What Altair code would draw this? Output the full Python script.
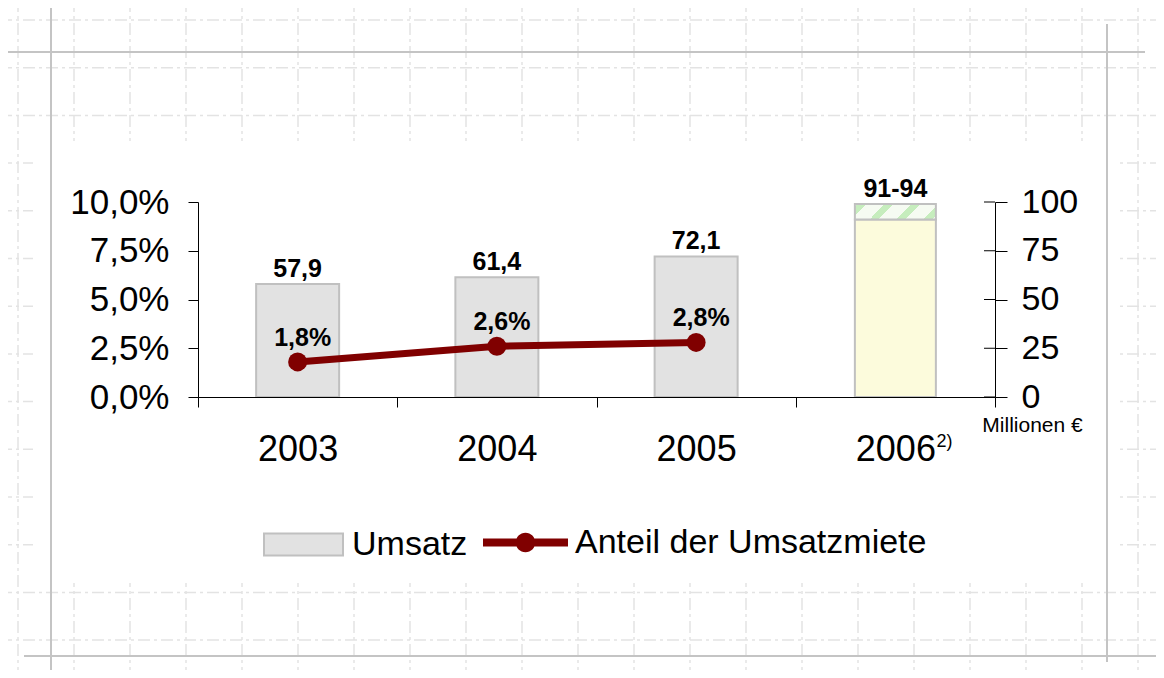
import altair as alt
import pandas as pd

# ---------------- data ----------------
years = ["2003", "2004", "2005", "2006"]
umsatz = [57.9, 61.4, 72.1]                 # Umsatz, Millionen €
umsatz_2006_low = 91.0                       # forecast range lower end
umsatz_2006_top = 99.0                       # top of the hatched forecast box as drawn
umsatz_2006_label = "91-94"
anteil = [0.018, 0.026, 0.028]               # Anteil der Umsatzmiete
right_ticks = [0, 25, 50, 75, 100]
left_ticks = [0, 0.025, 0.05, 0.075, 0.1]
footnote = "2)"
series_bar = "Umsatz"
series_line = "Anteil der Umsatzmiete"

# ---------------- layout / style ----------------
W, H = 797, 195
OX, OY = 198, 202          # page position of plot origin
FONT = "Liberation Sans"
GREY_EDGE = "#c0c0c0"
DARKRED = "#800000"

x_scale = alt.Scale(type="band", domain=years, paddingInner=0, paddingOuter=0)
yr_scale = alt.Scale(domain=[0, 100], nice=False)
yl_scale = alt.Scale(domain=[0, 0.1], nice=False)

x_axis = alt.Axis(title=None, labelAngle=0, labelFontSize=36, labelFont=FONT,
                  labelColor="black", labelPadding=25, tickBand="extent",
                  tickSize=10, tickColor="black", domainColor="black", grid=False,
                  zindex=2)
right_axis = alt.Axis(orient="right", values=right_ticks, format="d",
                      title="Millionen €", titleAngle=0, titleX=37, titleY=229,
                      titleAlign="center", titleBaseline="alphabetic",
                      titleFontSize=21, titleFontWeight="normal", titleColor="black",
                      titleFont=FONT, labelFontSize=34, labelFont=FONT,
                      labelColor="black", labelPadding=14, tickSize=12,
                      tickColor="black", domainColor="black", grid=False, zindex=2)
left_axis = alt.Axis(orient="left", values=left_ticks,
                     labelExpr="replace(format(datum.value, '.1%'), '.', ',')",
                     title=None, labelFontSize=35, labelFont=FONT, labelColor="black",
                     labelPadding=19, tickSize=10, tickColor="black",
                     domainColor="black", grid=False, zindex=2)

X = alt.X("year:N", scale=x_scale, axis=x_axis)
X_noaxis = alt.X("year:N", scale=x_scale, axis=None)
YR = alt.Y("hi:Q", scale=yr_scale, axis=right_axis)
YL = alt.Y("p:Q", scale=yl_scale, axis=left_axis)

# ---------------- decoration (drafting-paper background) ----------------
dash_rows = []
for k in range(21):
    px = 18 + 56 * k - OX
    dash_rows.append({"x": px, "x2": px, "y": -OY, "y2": 678 - OY})
for k in range(14):
    py = 20 + 47.7 * k - OY
    dash_rows.append({"x": -OX, "x2": 1164 - OX, "y": py, "y2": py})
frame_rows = [
    {"x": 8 - OX, "x2": 1145 - OX, "y": 52 - OY, "y2": 52 - OY},
    {"x": 51 - OX, "x2": 51 - OX, "y": 7 - OY, "y2": 678 - OY},
    {"x": 1107 - OX, "x2": 1107 - OX, "y": 24 - OY, "y2": 662 - OY},
    {"x": 24 - OX, "x2": 1164 - OX, "y": 656 - OY, "y2": 656 - OY},
]
box_rows = [{"x": 33 - OX, "x2": 1118 - OX, "y": 141 - OY, "y2": 583 - OY}]

def raw_enc(ch):
    return ch.encode(
        x=alt.X("x:Q", scale=None, axis=None), x2="x2:Q",
        y=alt.Y("y:Q", scale=None, axis=None), y2="y2:Q")

dashed = raw_enc(alt.Chart(pd.DataFrame(dash_rows)).mark_rule(
    color="#e3e3e3", strokeWidth=1.5, strokeDash=[12, 4, 3, 4]))
whitebox = raw_enc(alt.Chart(pd.DataFrame(box_rows)).mark_rect(fill="white"))
frame = raw_enc(alt.Chart(pd.DataFrame(frame_rows)).mark_rule(
    color="#c4c4c4", strokeWidth=2))
deco = alt.layer(dashed, whitebox, frame)

# ---------------- bars (right axis) ----------------
bars_df = pd.DataFrame({"year": years[:3], "lo": [0.0] * 3, "hi": umsatz,
                        "s": [series_bar] * 3})
base06_df = pd.DataFrame({"year": [years[3]], "lo": [0.0], "hi": [umsatz_2006_low]})
top06_df = pd.DataFrame({"year": [years[3]], "lo": [umsatz_2006_low],
                         "hi": [umsatz_2006_top]})
lab_df = pd.DataFrame({
    "year": years,
    "hi": umsatz + [umsatz_2006_top],
    "label": [f"{v:.1f}".replace(".", ",") for v in umsatz] + [umsatz_2006_label],
})

leg_bar = alt.Legend(title=None, orient="none", legendX=65, legendY=302,
                     symbolType="M-1,-0.278H1V0.278H-1Z", symbolSize=6241,
                     symbolStrokeColor=GREY_EDGE, symbolStrokeWidth=2,
                     labelFont=FONT, labelFontSize=34, labelColor="black",
                     labelOffset=8, labelLimit=1000, padding=0)

bars = alt.Chart(bars_df).mark_bar(size=83, stroke=GREY_EDGE, strokeWidth=2).encode(
    x=X, y=YR, y2="lo:Q",
    fill=alt.Fill("s:N", scale=alt.Scale(domain=[series_bar], range=["#e2e2e2"]),
                  legend=leg_bar))

base06 = alt.Chart(base06_df).mark_bar(size=81, fill="#fcfbdc", stroke=GREY_EDGE,
                                       strokeWidth=2).encode(x=X, y=YR, y2="lo:Q")

g, w = "#c6edbd", "#f6fbf2"
stops = [(0, w), (0.03, w), (0.03, g), (0.12, g), (0.12, w), (0.31, w), (0.31, g),
         (0.40, g), (0.40, w), (0.59, w), (0.59, g), (0.68, g), (0.68, w), (0.87, w),
         (0.87, g), (0.96, g), (0.96, w), (1, w)]
grad = alt.LinearGradient(
    gradient="linear",
    stops=[alt.GradientStop(color=c, offset=o) for o, c in stops],
    x1=0, y1=0, x2=1.147, y2=0.215)
top06 = alt.Chart(top06_df).mark_bar(size=81, fill=grad, stroke=GREY_EDGE,
                                     strokeWidth=2).encode(x=X, y=YR, y2="lo:Q")

bar_labels = alt.Chart(lab_df).mark_text(
    font=FONT, fontSize=25, fontWeight="bold", baseline="alphabetic", dy=-7,
    color="black").encode(x=X, y=YR, text="label:N")

inner_ticks = alt.Chart(pd.DataFrame({"hi": right_ticks})).mark_rule(
    color="black", strokeWidth=1).encode(
    x=alt.value(W - 11), x2=alt.value(W), y=YR)

foot = alt.Chart(pd.DataFrame({"year": [years[3]], "t": [footnote]})).mark_text(
    font=FONT, fontSize=18, align="left", baseline="alphabetic", dx=41,
    color="black").encode(x=X, y=alt.value(245), text="t:N")

bar_group = alt.layer(bars, base06, top06, inner_ticks, bar_labels, foot)

# ---------------- line (left axis) ----------------
pct_df = pd.DataFrame({"year": years[:3], "p": anteil, "s2": [series_line] * 3})
pct_df["label"] = [f"{v * 100:.1f}".replace(".", ",") + "%" for v in anteil]

leg_line = alt.Legend(
    title=None, orient="none", legendX=285, legendY=298,
    symbolType="M-1,-0.094H1V0.094H-1Z M0.23,0A0.23,0.23,0,1,1,-0.23,0A0.23,0.23,0,1,1,0.23,0Z",
    symbolSize=7225, symbolStrokeWidth=0, labelFont=FONT, labelFontSize=34,
    labelColor="black", labelOffset=7, labelLimit=1000, padding=0)

line = alt.Chart(pct_df).mark_line(color=DARKRED, strokeWidth=7).encode(
    x=X_noaxis, y=YL)
points = alt.Chart(pct_df).mark_point(filled=True, size=360, opacity=1,
                                      strokeWidth=0).encode(
    x=X_noaxis, y=YL,
    fill=alt.Fill("s2:N", scale=alt.Scale(domain=[series_line], range=[DARKRED]),
                  legend=leg_line))
pct_labels = alt.Chart(pct_df).mark_text(
    font=FONT, fontSize=25, fontWeight="bold", baseline="alphabetic", dx=5, dy=-16,
    color="black").encode(x=X_noaxis, y=YL, text="label:N")

line_group = alt.layer(line, points, pct_labels)

chart = alt.layer(deco, bar_group, line_group).resolve_scale(
    x="independent", y="independent", fill="independent"
).properties(
    width=W, height=H,
    padding={"left": OX - 8, "top": OY - 8, "right": 1148 - (OX - 8) - W,
             "bottom": 662 - (OY - 8) - H},
    autosize=alt.AutoSizeParams(type="none"),
).configure(font=FONT).configure_view(strokeWidth=0)

chart.save("out.html", embed_options={"renderer": "svg", "actions": False})
